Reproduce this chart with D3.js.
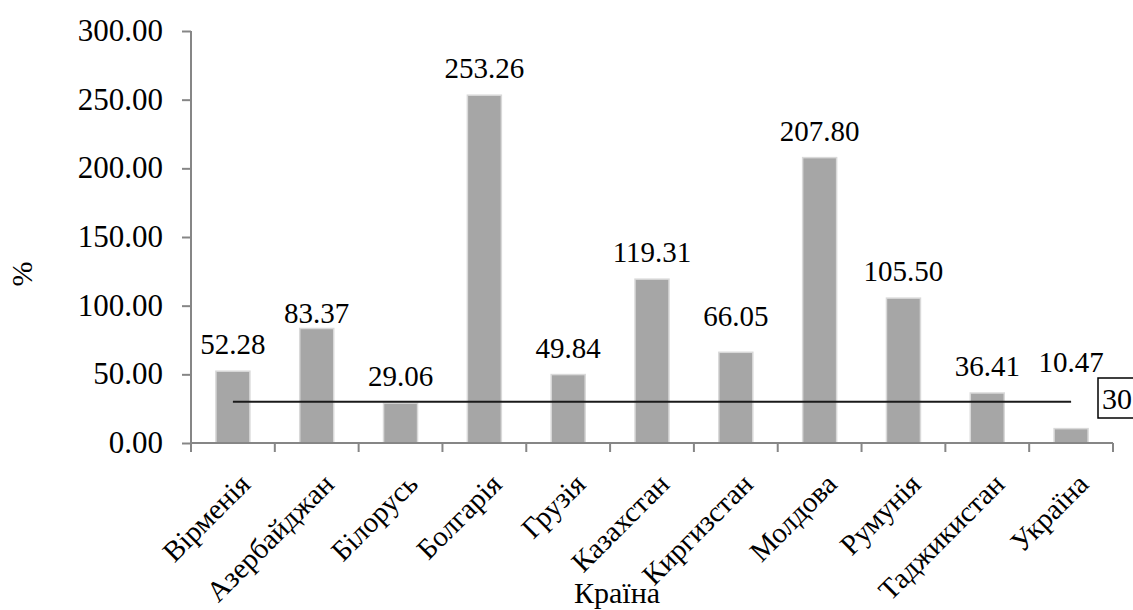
<!DOCTYPE html>
<html><head><meta charset="utf-8">
<script src="https://cdn.jsdelivr.net/npm/d3@7"></script>
<style>
html,body{margin:0;padding:0;background:#fff;}
</style>
</head>
<body>
<svg id="chart" width="1133" height="610"></svg>
<script>
const countries = ["Вірменія","Азербайджан","Білорусь","Болгарія","Грузія","Казахстан","Киргизстан","Молдова","Румунія","Таджикистан","Україна"];
const values = [52.28, 83.37, 29.06, 253.26, 49.84, 119.31, 66.05, 207.80, 105.50, 36.41, 10.47];
const thresholdValue = 30;
const yTicks = [0, 50, 100, 150, 200, 250, 300];
const xTitle = "Країна";
const yTitle = "%";

// label placement tweaks (pixels above default), styling only
const labelLift = {"Азербайджан": -11, "Киргизстан": 9, "Україна": 40};

const svg = d3.select("#chart");
svg.append("style").text('text{font-family:"Liberation Serif";}');
const xc = d3.scaleBand().domain(countries).range([191, 1113]).padding(0);
const y = d3.scaleLinear().domain([0, 300]).range([443, 31]);
const axisColor = "#868686";

function txt(sel, size) {
  return sel.attr("font-size", size).style("font-family", '"Liberation Serif"').attr("fill", "#000");
}

// bars
svg.append("g").selectAll("rect").data(values).join("rect")
  .attr("x", (d,i) => xc(countries[i]) + xc.bandwidth()/2 - 17)
  .attr("width", 34)
  .attr("y", d => y(d))
  .attr("height", d => y(0) - y(d))
  .attr("fill", "#a6a6a6")
  .attr("stroke", "#d9d9d9")
  .attr("stroke-width", 1.5);

// y axis (lines via d3.axis, labels appended directly to svg)
const yAxis = d3.axisLeft(y).tickValues(yTicks).tickSize(9).tickFormat("");
const gy = svg.append("g").attr("transform", `translate(191,0)`).call(yAxis);
gy.select(".domain").attr("stroke", axisColor).attr("stroke-width", 2).attr("d", `M0,${y(300)}V${y(0)}`);
gy.selectAll(".tick line").attr("stroke", axisColor).attr("stroke-width", 2);
gy.selectAll(".tick text").remove();
txt(svg.selectAll("text.ytl").data(yTicks).join("text").attr("class", "ytl"), 31)
  .attr("x", 163).attr("y", d => y(d) + 10).attr("text-anchor", "end")
  .text(d => d3.format(".2f")(d));

// x axis
svg.append("line").attr("x1", 191).attr("x2", 1113).attr("y1", y(0)).attr("y2", y(0))
  .attr("stroke", axisColor).attr("stroke-width", 2);
const edges = countries.map(c => xc(c)).concat([xc(countries[countries.length-1]) + xc.bandwidth()]);
svg.selectAll("line.tk").data(edges).join("line").attr("class","tk")
  .attr("x1", d => d).attr("x2", d => d).attr("y1", y(0)).attr("y2", y(0) + 9)
  .attr("stroke", axisColor).attr("stroke-width", 2);

// x labels
txt(svg.selectAll("text.xl").data(countries).join("text").attr("class", "xl"), 29)
  .attr("transform", d => `translate(${xc(d) + xc.bandwidth()/2 + 19},486) rotate(-45)`)
  .attr("text-anchor", "end")
  .text(d => d);

// threshold line
svg.append("line")
  .attr("x1", xc(countries[0]) + xc.bandwidth()/2)
  .attr("x2", xc(countries[countries.length-1]) + xc.bandwidth()/2)
  .attr("y1", y(thresholdValue)).attr("y2", y(thresholdValue))
  .attr("stroke", "#1a1a1a").attr("stroke-width", 2);

// threshold box
svg.append("rect").attr("x", 1098).attr("y", 378).attr("width", 60).attr("height", 40)
  .attr("fill", "#fff").attr("stroke", "#000").attr("stroke-width", 1.5);
txt(svg.append("text"), 30).attr("x", 1102).attr("y", 409).text(String(thresholdValue));

// data labels
txt(svg.selectAll("text.dl").data(values).join("text").attr("class", "dl"), 29)
  .attr("x", (d,i) => xc(countries[i]) + xc.bandwidth()/2)
  .attr("y", (d,i) => y(d) - 17 - (labelLift[countries[i]] || 0))
  .attr("text-anchor", "middle")
  .text(d => d3.format(".2f")(d));

// axis titles
txt(svg.append("text"), 30).attr("x", 617).attr("y", 603).attr("text-anchor", "middle").text(xTitle);
txt(svg.append("text"), 30).attr("transform", "translate(32,274) rotate(-90)").attr("text-anchor", "middle").text(yTitle);
</script>
</body></html>
